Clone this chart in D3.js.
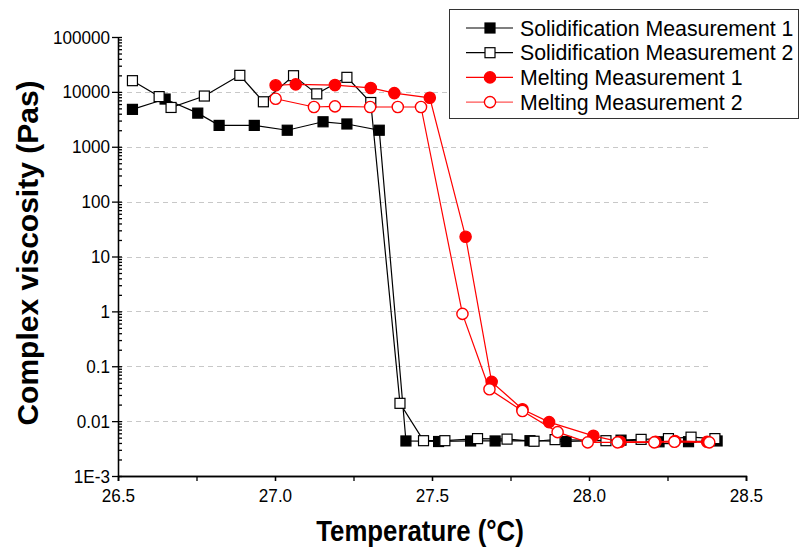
<!DOCTYPE html>
<html>
<head>
  <meta charset="utf-8">
  <title>Complex viscosity vs temperature</title>
  <script src="https://cdn.jsdelivr.net/npm/d3@7/dist/d3.min.js"></script>
  <style>
    body { margin: 0; background: #fff; font-family: 'Liberation Sans', Arial, sans-serif; }
    svg { display: block; }
    .axis path, .axis line { stroke: #000; stroke-width: 1.3px; }
    .axis text { font-size: 19px; fill: #000; font-family: 'Liberation Sans', Arial, sans-serif; }
    .grid { stroke: #c8c8c8; stroke-width: 1px; stroke-dasharray: 5,4; }
    .title { font-weight: bold; font-size: 30px; }
    .legend text { font-size: 21.3px; }
  </style>
</head>
<body>
<script>
// solidification, measurement 1 (filled squares)
var sol1T = [26.546, 26.650, 26.754, 26.822, 26.934, 27.039, 27.153, 27.229, 27.332, 27.417,
             27.521, 27.623, 27.701, 27.812, 27.927, 28.102, 28.223, 28.317, 28.408];
var sol1V = [4800, 7400, 4100, 2450, 2450, 2000, 2850, 2600, 2000, 0.00435,
             0.00425, 0.00435, 0.00435, 0.0044, 0.00425, 0.0045, 0.0042, 0.00422, 0.00435];

// solidification, measurement 2 (open squares)
var sol2T = [26.546, 26.631, 26.669, 26.775, 26.888, 26.963, 27.059, 27.133, 27.229, 27.305,
             27.398, 27.473, 27.541, 27.645, 27.739, 27.825, 27.892, 28.054, 28.166, 28.253,
             28.325, 28.401];
var sol2V = [16000, 8200, 5200, 8400, 20000, 6600, 19700, 9200, 18400, 6400,
             0.0211, 0.0044, 0.0044, 0.0048, 0.0047, 0.0043, 0.0046, 0.0044, 0.00465, 0.0048,
             0.0051, 0.0048];

// melting, measurement 1 (filled circles)
var melt1T = [27.002, 27.066, 27.191, 27.305, 27.380, 27.493, 27.607, 27.690, 27.788, 27.873,
              28.014, 28.099, 28.212, 28.274, 28.376];
var melt1V = [13200, 13700, 13300, 11800, 9500, 7800, 22.9, 0.052, 0.0165, 0.0096,
              0.0054, 0.0042, 0.0042, 0.00435, 0.0042];

// melting, measurement 2 (open circles)
var melt2T = [27.002, 27.124, 27.191, 27.303, 27.391, 27.465, 27.597, 27.683, 27.788, 27.900,
              27.996, 28.091, 28.208, 28.272, 28.383];
var melt2V = [7500, 5300, 5450, 5300, 5300, 5300, 0.9, 0.038, 0.0153, 0.0063,
              0.0041, 0.0041, 0.0041, 0.0042, 0.0041];

var seriesNames = ['Solidification Measurement 1', 'Solidification Measurement 2',
                   'Melting Measurement 1', 'Melting Measurement 2'];

var xTicks = [26.5, 27.0, 27.5, 28.0, 28.5];
var yTicks = [1e-3, 1e-2, 1e-1, 1, 10, 100, 1000, 10000, 100000];
var yTickLabels = ['1E-3', '0.01', '0.1', '1', '10', '100', '1000', '10000', '100000'];

var W = 801, H = 551;

var x = d3.scaleLinear().domain([26.5, 28.5]).range([118, 746]);
var y = d3.scaleLog().domain([1e-3, 1e5]).range([476, 37]);

var svg = d3.select('body').append('svg')
    .attr('width', W)
    .attr('height', H);

// dashed decade lines
svg.append('g').selectAll('line')
    .data(yTicks.slice(1, -1))
  .enter().append('line')
    .attr('class', 'grid')
    .attr('x1', x(26.5))
    .attr('x2', x(28.39))
    .attr('y1', function (d) { return Math.round(y(d)) + 0.5; })
    .attr('y2', function (d) { return Math.round(y(d)) + 0.5; });

// minor tick values
var yMinor = [];
yTicks.slice(0, -1).forEach(function (d) {
  for (var k = 1; k < 10; k++) yMinor.push(d * k);
});
yMinor.push(1e5);
var xMinor = d3.range(26.5, 28.51, 0.25);

// x axis
svg.append('g')
    .attr('class', 'axis')
    .attr('transform', 'translate(0,476)')
    .call(d3.axisBottom(x).tickValues(xMinor).tickSize(5).tickFormat(''));
svg.append('g')
    .attr('class', 'axis')
    .attr('transform', 'translate(0,476)')
    .call(d3.axisBottom(x).tickValues(xTicks).tickSize(5).tickPadding(8).tickFormat(d3.format('.1f')));

// y axis
svg.append('g')
    .attr('class', 'axis')
    .attr('transform', 'translate(118,0)')
    .call(d3.axisLeft(y).tickValues(yMinor).tickSizeInner(-4).tickSizeOuter(0).tickFormat(''));
svg.append('g')
    .attr('class', 'axis')
    .attr('transform', 'translate(118,0)')
    .call(d3.axisLeft(y).tickValues(yTicks).tickSizeInner(6).tickSizeOuter(0).tickPadding(3)
      .tickFormat(function (d, i) { return yTickLabels[i]; }));

// tick labels are a little condensed in the original
svg.selectAll('.axis text').attr('transform', 'scale(0.9,1)');

// axis titles
svg.append('g')
    .attr('transform', 'translate(38,253) rotate(-90)')
  .append('text')
    .attr('class', 'title')
    .attr('text-anchor', 'middle')
    .text('Complex viscosity (Pas)');
svg.append('g')
    .attr('transform', 'translate(420,541) scale(0.86,1)')
  .append('text')
    .attr('class', 'title')
    .attr('text-anchor', 'middle')
    .text('Temperature (°C)');

var series = [
  { t: sol1T, v: sol1V, color: '#000', shape: 'square', fill: '#000' },
  { t: sol2T, v: sol2V, color: '#000', shape: 'square', fill: '#fff' },
  { t: melt1T, v: melt1V, color: '#ff0000', shape: 'circle', fill: '#ff0000' },
  { t: melt2T, v: melt2V, color: '#ff0000', shape: 'circle', fill: '#fff' }
];

var line = d3.line()
    .x(function (d) { return x(d[0]); })
    .y(function (d) { return y(d[1]); });

function drawMarker(g, s, cx, cy) {
  if (s.shape === 'square') {
    g.append('rect')
        .attr('x', cx - 5).attr('y', cy - 5)
        .attr('width', 10).attr('height', 10)
        .attr('fill', s.fill).attr('stroke', s.color).attr('stroke-width', 1.2);
  } else {
    g.append('circle')
        .attr('cx', cx).attr('cy', cy).attr('r', 5.6)
        .attr('fill', s.fill).attr('stroke', s.color).attr('stroke-width', 1.4);
  }
}

series.forEach(function (s) {
  var pts = s.t.map(function (t, i) { return [t, s.v[i]]; });
  var g = svg.append('g');
  g.append('path')
      .attr('d', line(pts))
      .attr('fill', 'none')
      .attr('stroke', s.color)
      .attr('stroke-width', 1.2);
  pts.forEach(function (p) { drawMarker(g, s, x(p[0]), y(p[1])); });
});

// legend
var lg = svg.append('g').attr('class', 'legend');
lg.append('rect')
    .attr('x', 449.5).attr('y', 9.5)
    .attr('width', 349).attr('height', 109)
    .attr('fill', '#fff').attr('stroke', '#333').attr('stroke-width', 1);
series.forEach(function (s, i) {
  var cy = 28 + i * 24.7;
  lg.append('line')
      .attr('x1', 466).attr('x2', 513)
      .attr('y1', cy).attr('y2', cy)
      .attr('stroke', i === 3 ? '#ff5555' : s.color)
      .attr('stroke-width', 1.2);
  drawMarker(lg, s, 490, cy);
  lg.append('text')
      .attr('x', 520).attr('y', cy)
      .attr('dy', '0.36em')
      .text(seriesNames[i]);
});
</script>
</body>
</html>
